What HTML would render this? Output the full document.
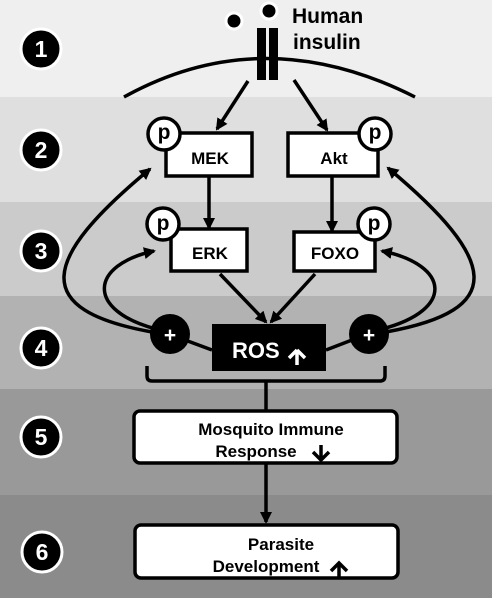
<!DOCTYPE html>
<html><head><meta charset="utf-8"><style>
body{margin:0;width:492px;height:598px;overflow:hidden}
text{font-family:"Liberation Sans",sans-serif;font-weight:bold}
</style></head><body>
<svg width="492" height="598" viewBox="0 0 492 598" xmlns="http://www.w3.org/2000/svg">
<defs>
<marker id="a" markerWidth="12" markerHeight="12" refX="10" refY="6" orient="auto" markerUnits="userSpaceOnUse"><path d="M0,0 L12,6 L0,12 Z" fill="#000"/></marker>
</defs>
<rect x="0" y="0" width="492" height="97" fill="#efefef"/>
<rect x="0" y="97" width="492" height="105" fill="#dfdfdf"/>
<rect x="0" y="202" width="492" height="94" fill="#cbcbcb"/>
<rect x="0" y="296" width="492" height="93" fill="#b2b2b2"/>
<rect x="0" y="389" width="492" height="106" fill="#999"/>
<rect x="0" y="495" width="492" height="103" fill="#8b8b8b"/>
<g stroke="#fff" stroke-width="3" fill="#000">
<circle cx="41" cy="49" r="20"/><circle cx="41" cy="150" r="20"/><circle cx="41" cy="251" r="20"/>
<circle cx="41" cy="348" r="20"/><circle cx="41" cy="437" r="20"/><circle cx="42" cy="552" r="20"/>
</g>
<g fill="#fff" font-size="23" text-anchor="middle">
<text x="41" y="57">1</text><text x="41" y="158">2</text><text x="41" y="259">3</text>
<text x="41" y="356">4</text><text x="41" y="445">5</text><text x="42" y="560">6</text>
</g>
<path d="M124,97 Q263,20 415,97" fill="none" stroke="#000" stroke-width="3.5"/>
<rect x="257" y="28" width="9" height="52" fill="#000"/><rect x="269" y="28" width="9" height="52" fill="#000"/>
<circle cx="234" cy="21" r="8" fill="#000" stroke="#fff" stroke-width="3"/>
<circle cx="269" cy="11" r="8" fill="#000" stroke="#fff" stroke-width="3"/>
<text x="292" y="23" font-size="21">Human</text><text x="293" y="49" font-size="21">insulin</text>
<g stroke="#000" stroke-width="3.5" fill="none" marker-end="url(#a)">
<line x1="248" y1="81" x2="217" y2="129"/>
<line x1="294" y1="80" x2="327" y2="130"/>
<line x1="209" y1="177" x2="209" y2="228"/>
<line x1="332" y1="177" x2="332" y2="231"/>
<line x1="220" y1="274" x2="266" y2="322"/>
<line x1="315" y1="274" x2="271" y2="322"/>
<path d="M152,332 C30,310 40,260 150,169"/>
<path d="M156,329 C85,310 90,265 154,251"/>
<path d="M386,332 C508,310 498,260 388,168"/>
<path d="M382,329 C455,310 450,265 382,251"/>
<line x1="266" y1="463" x2="266" y2="522"/>
</g>
<g stroke="#000" stroke-width="3.5" fill="#fff">
<rect x="166" y="133" width="86" height="43"/>
<rect x="288" y="133" width="90" height="43"/>
<rect x="171" y="229" width="76" height="42"/>
<rect x="294" y="232" width="81" height="39"/>
<circle cx="164" cy="134" r="16"/><circle cx="375" cy="134" r="16"/>
<circle cx="163" cy="224" r="16"/><circle cx="374" cy="224" r="16"/>
</g>
<g font-size="17" text-anchor="middle">
<text x="210" y="164">MEK</text><text x="334" y="164">Akt</text>
<text x="210" y="259">ERK</text><text x="335" y="259">FOXO</text>
</g>
<g font-size="21" text-anchor="middle">
<text x="164" y="139">p</text><text x="375" y="139">p</text>
<text x="163" y="230">p</text><text x="374" y="230">p</text>
</g>
<g stroke="#000" stroke-width="3.5">
<line x1="185" y1="340" x2="212" y2="350"/><line x1="352" y1="340" x2="326" y2="350"/>
</g>
<circle cx="170" cy="334" r="20" fill="#000"/><circle cx="369" cy="334" r="20" fill="#000"/>
<text x="170" y="342" fill="#fff" font-size="21" text-anchor="middle">+</text>
<text x="369" y="342" fill="#fff" font-size="21" text-anchor="middle">+</text>
<rect x="212" y="324" width="114" height="47" fill="#000"/>
<text x="232" y="358" fill="#fff" font-size="22">ROS</text>
<path d="M297,350 l-8,8 M297,350 l8,8 M297,350 v15" stroke="#fff" stroke-width="3.5" fill="none"/>
<path d="M147,366 v10 q0,5 5,5 h228 q5,0 5,-5 v-10 M266,381 v30" stroke="#000" stroke-width="3.5" fill="none"/>
<rect x="134" y="411" width="263" height="52" rx="6" fill="#fff" stroke="#000" stroke-width="3.5"/>
<rect x="135" y="525" width="263" height="53" rx="6" fill="#fff" stroke="#000" stroke-width="3.5"/>
<g font-size="17" text-anchor="middle">
<text x="271" y="435">Mosquito Immune</text>
<text x="256" y="457">Response</text>
<text x="281" y="550">Parasite</text>
<text x="266" y="572">Development</text>
</g>
<path d="M321,445 v15 M313,452 l8,8 l8,-8" stroke="#000" stroke-width="3.5" fill="none"/>
<path d="M339,578 v-15 M331,571 l8,-8 l8,8" stroke="#000" stroke-width="3.5" fill="none"/>
</svg>
</body></html>
